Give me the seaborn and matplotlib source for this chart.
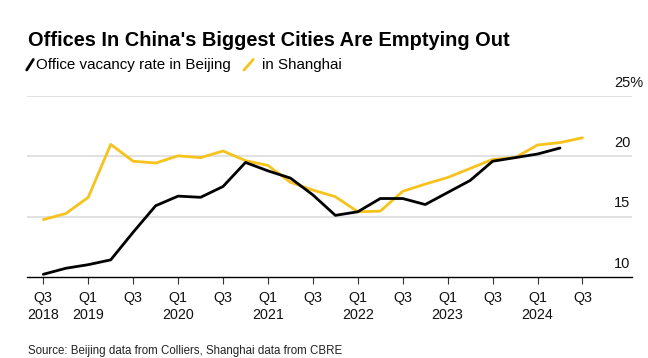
import numpy as np
import pandas as pd
import matplotlib
matplotlib.use("Agg")
import matplotlib.pyplot as plt
from matplotlib.lines import Line2D
import seaborn as sns

# quarterly office vacancy rates (%)
quarters = ["2018Q3", "2018Q4", "2019Q1", "2019Q2", "2019Q3", "2019Q4",
            "2020Q1", "2020Q2", "2020Q3", "2020Q4", "2021Q1", "2021Q2",
            "2021Q3", "2021Q4", "2022Q1", "2022Q2", "2022Q3", "2022Q4",
            "2023Q1", "2023Q2", "2023Q3", "2023Q4", "2024Q1", "2024Q2",
            "2024Q3"]
beijing = [10.2, 10.7, 11.0, 11.4, 13.7, 15.9, 16.7, 16.6, 17.5, 19.5,
           18.8, 18.2, 16.8, 15.1, 15.4, 16.5, 16.5, 16.0, 17.0, 18.0,
           19.6, 19.9, 20.2, 20.7]
shanghai = [14.75, 15.25, 16.6, 21.0, 19.6, 19.45, 20.05, 19.9, 20.45, 19.65,
            19.25, 17.85, 17.2, 16.65, 15.4, 15.45, 17.1, 17.7, 18.25, 19.0,
            19.75, 19.9, 20.95, 21.15, 21.55]
tick_labels = ["Q3\n2018", "Q1\n2019", "Q3", "Q1\n2020", "Q3", "Q1\n2021", "Q3",
               "Q1\n2022", "Q3", "Q1\n2023", "Q3", "Q1\n2024", "Q3"]
y_ticks = [10, 15, 20, 25]

BLACK = "#000000"
YELLOW = "#F6C21C"

sns.set_style("white")
plt.rcParams["font.family"] = ["Liberation Sans", "DejaVu Sans"]
plt.rcParams["text.color"] = BLACK
plt.rcParams["xtick.color"] = BLACK

idx = np.arange(len(quarters))
df = pd.concat([
    pd.DataFrame({"q": idx[:len(beijing)], "rate": beijing, "city": "Beijing"}),
    pd.DataFrame({"q": idx[:len(shanghai)], "rate": shanghai, "city": "Shanghai"}),
])

fig = plt.figure(figsize=(6.48, 3.58), dpi=100)
ax = fig.add_axes([0.0412, 0.2271, 0.9336, 0.5056])

# gridlines first so the lines sit on top
for v in y_ticks[1:]:
    ax.axhline(v, color="#dcdcdc", lw=1.2, zorder=0)

sns.lineplot(data=df, x="q", y="rate", hue="city",
             palette={"Beijing": BLACK, "Shanghai": YELLOW},
             hue_order=["Shanghai", "Beijing"],
             linewidth=2.0, legend=False, ax=ax, zorder=3)

ax.set_xlim(-0.74, 26.19)
ax.set_ylim(10, 25.05)
ax.set_xticks(idx[::2])
ax.set_xticklabels(tick_labels, fontsize=10.3, linespacing=1.25, color="#111111")
ax.tick_params(axis="x", bottom=True, length=5, width=0.8, color="#333333", pad=5.5)
ax.set_yticks([])
ax.set_xlabel("")
ax.set_ylabel("")
for s in ["top", "left", "right"]:
    ax.spines[s].set_visible(False)
ax.spines["bottom"].set_color(BLACK)
ax.spines["bottom"].set_linewidth(1.0)

# right-side y labels, sitting above their gridlines
for v in y_ticks:
    lab = f"{v}%" if v == y_ticks[-1] else f"{v}"
    ax.annotate(lab, xy=(0.9707, v), xycoords=("axes fraction", "data"),
                xytext=(0, 9.5), textcoords="offset points",
                ha="left", va="center", fontsize=10.5, color="#111111")

fig.text(0.043, 1 - 46 / 358, "Offices In China's Biggest Cities Are Emptying Out",
         fontsize=14.4, fontweight="bold", ha="left", va="baseline", color=BLACK)

# legend with slash icons
fig.add_artist(Line2D([0.0412, 0.0514], [1 - 70 / 358, 1 - 59.5 / 358], color=BLACK,
                      lw=2.0, transform=fig.transFigure))
fig.text(0.0556, 1 - 69.3 / 358, "Office vacancy rate in Beijing", fontsize=10.9,
         ha="left", va="baseline", color=BLACK)
fig.add_artist(Line2D([244 / 648, 253.3 / 648], [1 - 70 / 358, 1 - 59.5 / 358],
                      color=YELLOW, lw=2.0, transform=fig.transFigure))
fig.text(262.3 / 648, 1 - 69.3 / 358, "in Shanghai", fontsize=10.9, ha="left",
         va="baseline", color=BLACK)

fig.text(0.043, 1 - 354 / 358, "Source: Beijing data from Colliers, Shanghai data from CBRE",
         fontsize=8.3, ha="left", va="baseline", color="#222222")

fig.savefig("out.png", dpi=100)
